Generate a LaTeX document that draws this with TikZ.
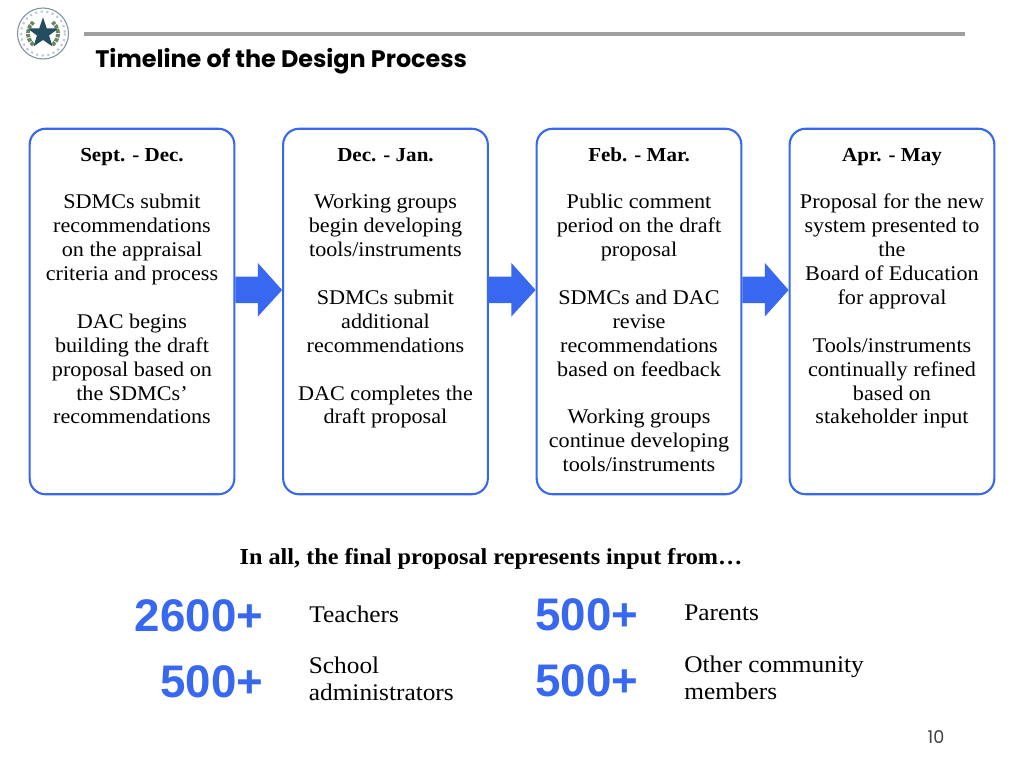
\documentclass[tikz,border=0pt]{standalone}
\usepackage{fontspec}
\setmainfont[FakeStretch=1.06]{Liberation Serif}
\newfontfamily\numfont{Liberation Sans}
\newfontfamily\titlefont{Poppins}
\usetikzlibrary{positioning,calc}
\definecolor{boxblue}{RGB}{56,104,240}
\definecolor{rulegray}{RGB}{160,160,160}
\definecolor{sealblue}{RGB}{38,76,96}
\definecolor{sealgreen}{RGB}{104,134,96}
\newcommand{\stagehead}[1]{\strut{\fontsize{11.3}{13.6}\selectfont\textbf{#1}}}
\tikzset{
	stagebox/.style = {draw = boxblue, line width = 1.2pt, rounded corners = 9pt, minimum width = 116.5pt, minimum height = 208pt, inner sep = 0pt},
	stagetext/.style = {align = center, anchor = north, inner sep = 0pt, font = \fontsize{11.9}{13.6}\selectfont},
	bignum/.style = {anchor = east, inner sep = 0pt, text = boxblue, font = \fontsize{26}{28}\selectfont\numfont\bfseries},
	grouptext/.style = {anchor = west, align = left, inner sep = 0pt, font = \fontsize{13.6}{15.6}\selectfont}
}
\begin{document}
\begin{tikzpicture}[x = 0.02cm, y = -0.02cm]
	\useasboundingbox (0,0) rectangle (1024,768);
	% seal
	\draw [sealblue!60, line width = 0.6pt, fill = white] (43,33.5) circle (25.5);
	\draw [sealblue!30, line width = 1.2pt, dotted] (43,33.5) circle (22);
	\draw [sealgreen, line width = 2.2pt, dash pattern = on 2pt off 0.6pt] (33.36,44.99) arc (130:230:15);
	\draw [sealgreen, line width = 2.2pt, dash pattern = on 2pt off 0.6pt] (52.64,44.99) arc (50:-50:15);
	\fill [sealblue] ($(43,33.5)+(0,-16)$) \foreach \a in {1,...,9} {
		-- ($(43,33.5)+({90+36*\a}:{-16*(1-0.6*mod(\a,2))})$)
	} -- cycle;
	% title
	\draw [rulegray, line width = 2pt] (84,34) -- (965,34);
	\node (title) [anchor = west, inner sep = 0pt, font = \fontsize{13.6}{16}\selectfont\titlefont\bfseries] at (95,61) {Timeline of the Design Process};
	% boxes
	\node (sept) [stagebox] at (132,311.5) {};
	\node (dec) [stagebox] at (385.5,311.5) {};
	\node (feb) [stagebox] at (639,311.5) {};
	\node (apr) [stagebox] at (892,311.5) {};
	\node (septtext) [stagetext] at (132,144) {\stagehead{Sept. - Dec.}\\ ~\\ SDMCs submit\\ recommendations\\ on the appraisal\\ criteria and process\\ ~\\ DAC begins\\ building the draft\\ proposal based on\\ the SDMCs’\\ recommendations};
	\node (dectext) [stagetext] at (385.5,144) {\stagehead{Dec. - Jan.}\\ ~\\ Working groups\\ begin developing\\ tools/instruments\\ ~\\ SDMCs submit\\ additional\\ recommendations\\ ~\\ DAC completes the\\ draft proposal};
	\node (febtext) [stagetext] at (639,144) {\stagehead{Feb. - Mar.}\\ ~\\ Public comment\\ period on the draft\\ proposal\\ ~\\ SDMCs and DAC\\ revise\\ recommendations\\ based on feedback\\ ~\\ Working groups\\ continue developing\\ tools/instruments};
	\node (aprtext) [stagetext] at (892,144) {\stagehead{Apr. - May}\\ ~\\ Proposal for the new\\ system presented to\\ the\\ Board of Education\\ for approval\\ ~\\ Tools/instruments\\ continually refined\\ based on\\ stakeholder input};
	% arrows
	\foreach \from/\to in {sept/dec, dec/feb, feb/apr} {
		\fill [boxblue] ($(\from.east)+(0,-35)$) -- ++(22.5,0) -- ++(0,-13.5) -- ($(\to.west)+(0,-21.5)$) -- ($(\from.east)+(22.5,5)$) -- ++(0,-13.5) -- ++(-22.5,0) -- cycle;
	}
	% totals
	\node (inall) [inner sep = 0pt, font = \fontsize{13}{15}\selectfont\bfseries] at (491,558.5) {In all, the final proposal represents input from…};
	\node (num1) [bignum] at (263.5,616) {2600+};
	\node (num2) [bignum] at (263.5,682) {500+};
	\node (num3) [bignum] at (638.5,615) {500+};
	\node (num4) [bignum] at (638.5,681) {500+};
	\node (teach) [grouptext] at (309,614) {Teachers};
	\node (admin) [grouptext] at (308.5,679) {School\\ administrators};
	\node (parent) [grouptext] at (684,613) {Parents};
	\node (other) [grouptext] at (684,678) {Other community\\ members};
	\node (page) [inner sep = 0pt, text = black!75, font = \fontsize{10}{11}\selectfont\titlefont] at (936,737) {10};
\end{tikzpicture}
\end{document}
